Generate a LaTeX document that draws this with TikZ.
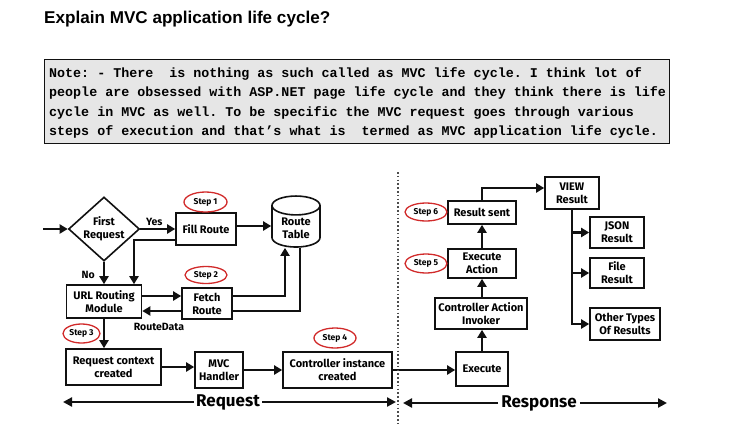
\documentclass[tikz,border=0pt]{standalone}
\usepackage{fontspec}
\setmainfont{Liberation Sans}
\setmonofont{Liberation Mono}
\newfontfamily\handfont{Fira Sans}
\usetikzlibrary{arrows.meta, positioning, shapes.geometric}
\definecolor{kred}{HTML}{D12A2A}
\definecolor{knotebg}{HTML}{E6E6E6}
\definecolor{kink}{HTML}{111111}
\tikzset{
  box/.style={draw=kink, line width=1.6pt, align=center, inner sep=1pt,
    font=\handfont\bfseries\fontsize{11}{13}\selectfont},
  stepmark/.style={ellipse, draw=kred, line width=1.3pt, inner sep=0pt,
    font=\handfont\bfseries\fontsize{8.5}{9}\selectfont},
  link/.style={draw=kink, line width=2.6pt, -{Triangle[length=8pt,width=9pt]}},
  plain/.style={draw=kink, line width=2.6pt},
  span/.style={draw=kink, line width=2.4pt, -{Triangle[length=9pt,width=9pt]}},
  divider/.style={draw=gray!60!black, line width=1.8pt, dash pattern=on 1.5pt off 2.3pt},
  tag/.style={inner sep=1pt, font=\handfont\bfseries\fontsize{10.5}{12}\selectfont},
  notetext/.style={anchor=base west, inner sep=0pt, font=\ttfamily\bfseries\fontsize{13.35}{16}\selectfont},
}

\begin{document}
\begin{tikzpicture}[x=1pt, y=-1pt]

  \useasboundingbox (0,0) rectangle (739,440);

  %% Heading and note
  \node[anchor=base west, inner sep=0pt, font=\bfseries\fontsize{17.1}{20}\selectfont] (title) at (44,23)
    {Explain MVC application life cycle?};
  \node[draw=kink, fill=knotebg, line width=1pt, anchor=north west, inner sep=0pt,
    minimum width=625pt, minimum height=84pt] (notebox) at (44,59) {};
  \node[notetext] (note1) at (49,77) {Note: - There\ \ is nothing as such called as MVC life cycle. I think lot of};
  \node[notetext] (note2) at (49,96.5) {people are obsessed with ASP.NET page life cycle and they think there is life};
  \node[notetext] (note3) at (49,116) {cycle in MVC as well. To be specific the MVC request goes through various};
  \node[notetext] (note4) at (49,135.5) {steps of execution and that’s what is\ \ termed as MVC application life cycle.};

  %% Request side
  \coordinate (entry) at (43,229);
  \node[box, diamond, aspect=1.1, inner sep=-3pt, minimum width=71pt, minimum height=64pt] (first) at (104,229) {First\\Request};
  \node[box, minimum width=60pt, minimum height=32pt] (fill) at (206,229) {Fill Route};
  \node[stepmark, minimum width=43pt, minimum height=20pt] (step1) at (205.5,202) {Step 1};
  \node[box, cylinder, shape border rotate=90, aspect=0.6, minimum width=48pt, minimum height=51pt] (table) at (296,228) {Route\\Table};
  \node[box, minimum width=75pt, minimum height=33pt] (url) at (104,301.5) {URL Routing\\Module};
  \node[stepmark, minimum width=42pt, minimum height=17pt] (step2) at (206,275) {Step 2};
  \node[box, minimum width=50pt, minimum height=31pt] (fetch) at (207,303.5) {Fetch\\Route};
  \node[tag] (routedata) at (159,327) {RouteData};
  \node[stepmark, minimum width=37pt, minimum height=19pt] (step3) at (81.5,333.5) {Step 3};
  \node[box, minimum width=95pt, minimum height=36pt] (reqctx) at (113.5,367) {Request context\\created};
  \node[box, minimum width=48pt, minimum height=36pt] (mvc) at (219,370) {MVC\\Handler};
  \node[box, minimum width=109pt, minimum height=36pt] (ctrl) at (337.5,370) {Controller instance\\created};
  \node[stepmark, minimum width=42pt, minimum height=20pt] (step4) at (335,338) {Step 4};

  %% Response side
  \node[box, minimum width=52pt, minimum height=34pt] (exec) at (482,369) {Execute};
  \node[box, minimum width=92pt, minimum height=31pt] (invoker) at (481,313.5) {Controller Action\\Invoker};
  \node[box, minimum width=68pt, minimum height=29pt] (action) at (482,263.5) {Execute\\Action};
  \node[stepmark, minimum width=42pt, minimum height=19pt] (step5) at (426,263.5) {Step 5};
  \node[box, minimum width=68pt, minimum height=23pt] (sent) at (482,212.5) {Result sent};
  \node[stepmark, minimum width=42pt, minimum height=18pt] (step6) at (426,212) {Step 6};
  \node[box, minimum width=54pt, minimum height=32pt] (view) at (572,193) {VIEW\\Result};
  \node[box, minimum width=54pt, minimum height=31pt] (json) at (617,232.5) {JSON\\Result};
  \node[box, minimum width=54pt, minimum height=30pt] (file) at (617,273) {File\\Result};
  \node[box, minimum width=70pt, minimum height=32pt] (other) at (625,324) {Other Types\\Of Results};

  %% Connectors
  \draw[link] (entry) -- (first);
  \draw[link] (first) -- (fill) node[tag, pos=0.4, above=1pt] (yes) {Yes};
  \draw[link] ([yshift=3pt]fill.east) -- ([yshift=3pt]fill.east -| table.west);
  \draw[link] ([yshift=-11pt]fill.west) -| ([xshift=30pt]url.north);
  \draw[link] (first.south) -- (url.north) node[tag, pos=0.6, left=7pt] (no) {No};
  \draw[link] ([yshift=5.5pt]url.east) -- ([yshift=5.5pt]url.east -| fetch.west);
  \draw[link] ([yshift=-7.5pt]fetch.west) -- ([yshift=-7.5pt]fetch.west -| url.east);
  \draw[link] ([yshift=7.5pt]fetch.east) -| ([xshift=-11pt]table.south);
  \draw[plain] ([xshift=4pt]table.south) |- ([yshift=-7.5pt]fetch.east);
  \draw[link] (url.south) -- (url.south |- reqctx.north);
  \draw[link] (reqctx.east) -- (reqctx.east -| mvc.west);
  \draw[link] (mvc) -- (ctrl);
  \draw[link] (ctrl.east) -- (ctrl.east -| exec.west);
  \draw[link] (exec.north) -- (exec.north |- invoker.south);
  \draw[link] (action.south |- invoker.north) -- (action.south);
  \draw[link] (action) -- (sent);
  \draw[link] (sent.north) |- ([yshift=5pt]view.west);
  \foreach \res in {json, file, other}
    \draw[link] (view.south) |- (\res.west);

  %% Request / Response split
  \coordinate (divtop) at (398,172);
  \coordinate (divbot) at (398,424);
  \draw[divider] (divtop) -- (divbot);
  \node[inner sep=2pt, font=\handfont\bfseries\fontsize{17}{20}\selectfont] (reqlabel) at (228,402) {Request};
  \coordinate (reqleft) at (63,402);
  \coordinate (reqright) at (396,402);
  \draw[span] (reqlabel.west) -- (reqleft);
  \draw[span] (reqlabel.east) -- (reqright);
  \node[inner sep=3pt, font=\handfont\bfseries\fontsize{17}{20}\selectfont] (reslabel) at (539,403) {Response};
  \coordinate (resleft) at (403,403);
  \coordinate (resright) at (667,403);
  \draw[span] (reslabel.west) -- (resleft);
  \draw[span] (reslabel.east) -- (resright);

\end{tikzpicture}
\end{document}
